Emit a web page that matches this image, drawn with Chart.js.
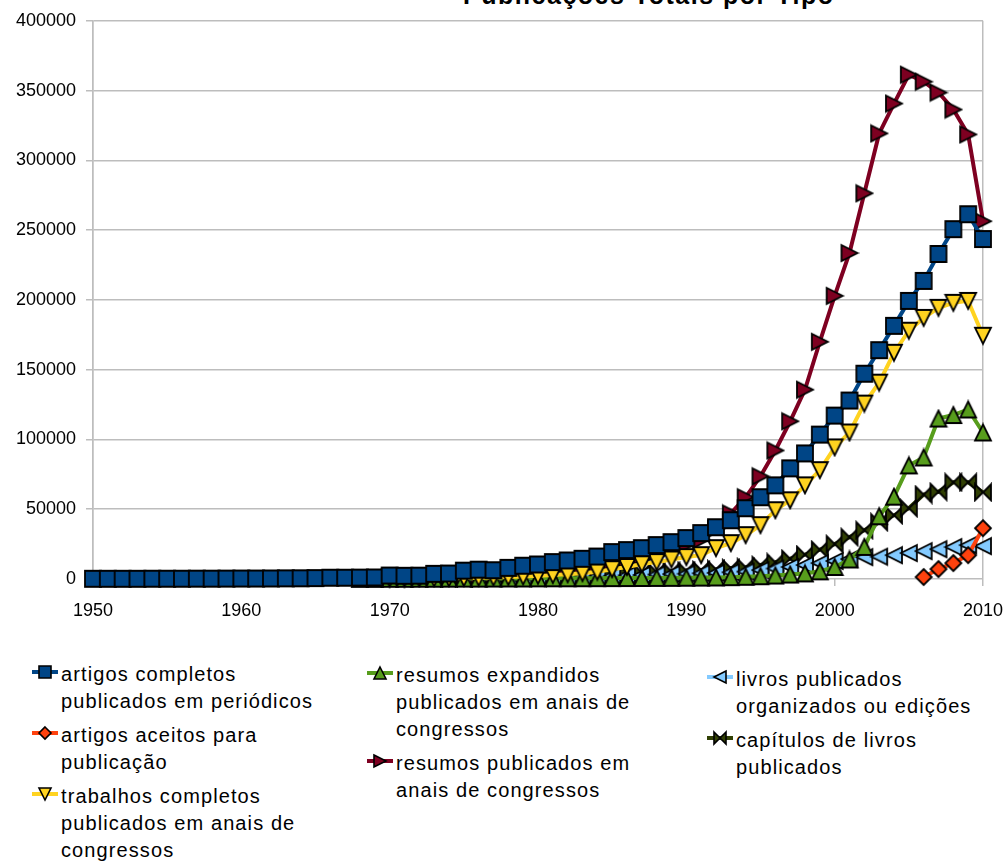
<!DOCTYPE html>
<html>
<head>
<meta charset="utf-8">
<title>Publicações Totais por Tipo</title>
<script src="https://cdn.jsdelivr.net/npm/chart.js@4.4.1/dist/chart.umd.min.js"></script>
<style>
  body { margin: 0; width: 1006px; height: 864px; overflow: hidden; background: #fff; position: relative;
         font-family: "Liberation Sans", Arial, sans-serif; color: #000; }
  #title { position: absolute; left: 463px; top: -20px; font-size: 25px; font-weight: bold; line-height: 30px;
           letter-spacing: 1.5px; white-space: nowrap; }
  #wrap { position: absolute; left: 0; top: 0; width: 1006px; height: 626px; }
  .col { position: absolute; }
  .item { position: relative; font-size: 20px; line-height: 27px; letter-spacing: 1.1px; margin-bottom: 7px; white-space: nowrap; }
  .item canvas { position: absolute; left: -30px; top: 3px; }
</style>
</head>
<body>
<div id="title">Publicações Totais por Tipo</div>
<div id="wrap"><canvas id="chart"></canvas></div>
<div id="legend"></div>

<script>
// --- dados ---
const years = [1950, 1951, 1952, 1953, 1954, 1955, 1956, 1957, 1958, 1959,
               1960, 1961, 1962, 1963, 1964, 1965, 1966, 1967, 1968, 1969,
               1970, 1971, 1972, 1973, 1974, 1975, 1976, 1977, 1978, 1979,
               1980, 1981, 1982, 1983, 1984, 1985, 1986, 1987, 1988, 1989,
               1990, 1991, 1992, 1993, 1994, 1995, 1996, 1997, 1998, 1999,
               2000, 2001, 2002, 2003, 2004, 2005, 2006, 2007, 2008, 2009, 2010];

const artigosCompletos = [150, 150, 160, 170, 180, 200, 220, 240, 260, 290,
                          320, 350, 400, 450, 520, 650, 900, 900, 1000, 1100,
                          2500, 2300, 2400, 3700, 3900, 6000, 6700, 6300, 8000, 9500,
                          10400, 12100, 13300, 14500, 16100, 19300, 20700, 22100, 24300, 26400,
                          29300, 32900, 37100, 42100, 50700, 58600, 67100, 79300, 90000, 103500,
                          117100, 127900, 147100, 164000, 181400, 199300, 213600, 232900, 250700, 261400, 243600];

const artigosAceitos = [null, null, null, null, null, null, null, null, null, null,
                        null, null, null, null, null, null, null, null, null, null,
                        null, null, null, null, null, null, null, null, null, null,
                        null, null, null, null, null, null, null, null, null, null,
                        null, null, null, null, null, null, null, null, null, null,
                        null, null, null, null, null, null, 1400, 7100, 11400, 17100, 36400];

const trabalhosCompletos = [null, null, null, null, null, null, null, null, null, null,
                            null, null, null, null, null, null, null, null, null, null,
                            300, 350, 400, 500, 600, 700, 900, 1100, 1400, 1800,
                            2300, 2800, 3400, 4200, 5200, 7000, 8600, 10700, 12100, 14000,
                            15700, 17100, 22100, 25700, 31400, 38600, 49300, 56400, 67100, 78000,
                            94300, 105000, 125700, 140700, 162100, 177900, 187100, 194300, 197900, 199300, 174300];

const resumosExpandidos = [null, null, null, null, null, null, null, null, null, null,
                           null, null, null, null, null, null, null, null, 100, 100,
                           150, 150, 200, 200, 250, 300, 300, 350, 400, 400,
                           450, 500, 500, 550, 600, 650, 700, 750, 800, 850,
                           900, 1000, 1100, 1300, 1600, 2000, 2500, 3200, 4000, 5500,
                           8600, 14000, 23000, 45000, 59000, 81400, 87100, 115000, 117500, 121500, 105000];

const resumosPublicados = [null, null, null, null, null, null, null, null, null, null,
                           null, null, null, null, null, null, null, null, null, null,
                           800, 900, 1000, 1300, 1600, 2000, 2500, 3000, 3800, 4600,
                           5500, 6500, 7500, 8800, 10500, 12500, 14500, 16500, 19000, 22000,
                           24500, 28000, 36000, 47000, 58600, 73600, 92100, 113000, 135700, 170000,
                           202900, 233600, 276400, 319300, 340700, 361400, 356400, 348600, 336400, 318600, 256400];

const livros = [null, null, null, null, null, null, null, null, null, null,
                null, null, null, null, null, null, null, null, null, null,
                null, null, null, null, null, 400, 500, 600, 700, 800,
                1000, 1200, 1400, 1700, 2000, 2300, 2600, 2900, 3200, 3500,
                3800, 4100, 4400, 4800, 5300, 6400, 7500, 8600, 10000, 11400,
                12900, 14300, 15700, 16000, 17100, 18600, 20000, 21400, 22900, 24300, 23600];

const capitulos = [null, null, null, null, null, null, null, null, null, null,
                   null, null, null, null, null, null, null, null, null, null,
                   500, 600, 700, 800, 900, 1000, 1200, 1400, 1600, 1800,
                   2000, 2300, 2600, 3000, 3400, 3800, 4200, 4600, 5000, 5500,
                   6000, 6500, 7000, 7800, 8500, 10000, 12000, 14500, 17500, 21000,
                   25000, 30000, 35000, 40700, 45700, 50700, 60500, 62500, 69300, 69300, 62100];

const legendLines = [
    ['artigos completos', 'publicados em periódicos'],
    ['artigos aceitos para', 'publicação'],
    ['trabalhos completos', 'publicados em anais de', 'congressos'],
    ['resumos expandidos', 'publicados em anais de', 'congressos'],
    ['resumos publicados em', 'anais de congressos'],
    ['livros publicados', 'organizados ou edições'],
    ['capítulos de livros', 'publicados']
];

const xTicks = [1950, 1960, 1970, 1980, 1990, 2000, 2010];
const yTicks = [0, 50000, 100000, 150000, 200000, 250000, 300000, 350000, 400000];

// --- estilos ---
const seriesValues = [artigosCompletos, artigosAceitos, trabalhosCompletos, resumosExpandidos,
                      resumosPublicados, livros, capitulos];
const colors = ['#004586', '#ff420e', '#ffd320', '#579d1c', '#7e0021', '#83caff', '#314004'];
const shapes = ['square', 'diamond', 'down', 'up', 'right', 'left', 'bowtie'];

// desenha o símbolo (estilo LibreOffice: forma inscrita num quadrado centrado no ponto)
function shapePath(ctx, shape, h) {
    ctx.beginPath();
    if (shape === 'square') {
        ctx.rect(-h, -h, 2 * h, 2 * h);
    } else if (shape === 'diamond') {
        ctx.moveTo(0, -h); ctx.lineTo(h, 0); ctx.lineTo(0, h); ctx.lineTo(-h, 0); ctx.closePath();
    } else if (shape === 'up') {
        ctx.moveTo(0, -h); ctx.lineTo(h, h); ctx.lineTo(-h, h); ctx.closePath();
    } else if (shape === 'down') {
        ctx.moveTo(-h, -h); ctx.lineTo(h, -h); ctx.lineTo(0, h); ctx.closePath();
    } else if (shape === 'right') {
        ctx.moveTo(-h, -h); ctx.lineTo(h, 0); ctx.lineTo(-h, h); ctx.closePath();
    } else if (shape === 'left') {
        ctx.moveTo(h, -h); ctx.lineTo(-h, 0); ctx.lineTo(h, h); ctx.closePath();
    } else if (shape === 'bowtie') {
        ctx.moveTo(-h, -h); ctx.lineTo(0, 0); ctx.lineTo(-h, h); ctx.closePath();
        ctx.moveTo(h, -h); ctx.lineTo(0, 0); ctx.lineTo(h, h); ctx.closePath();
    }
}

function makeMarker(shape, fill, size) {
    const c = document.createElement('canvas');
    c.width = size + 4;
    c.height = size + 4;
    const ctx = c.getContext('2d');
    ctx.translate(c.width / 2, c.height / 2);
    shapePath(ctx, shape, size / 2);
    ctx.fillStyle = fill;
    ctx.fill();
    ctx.lineWidth = 1.8;
    ctx.lineJoin = 'miter';
    ctx.strokeStyle = '#000';
    ctx.stroke();
    return c;
}

function makeLegendMarker(shape, fill) {
    const c = document.createElement('canvas');
    c.width = 28;
    c.height = 16;
    const ctx = c.getContext('2d');
    ctx.fillStyle = fill;
    ctx.fillRect(1, 6, 26, 4);
    ctx.translate(14, 8);
    shapePath(ctx, shape, 6);
    ctx.fill();
    ctx.lineWidth = 1.6;
    ctx.strokeStyle = '#000';
    ctx.stroke();
    return c;
}

// --- datasets ---
const datasets = seriesValues.map((vals, i) => ({
    label: legendLines[i].join(' '),
    data: years.map((yr, k) => ({ x: yr, y: vals[k] })),
    borderColor: colors[i],
    backgroundColor: colors[i],
    borderWidth: 4,
    pointStyle: makeMarker(shapes[i], colors[i], 16),
    pointRadius: 8,
    pointHoverRadius: 8,
    tension: 0,
    spanGaps: false,
    clip: false
}));

const gridGray = '#bdbdbd';

new Chart(document.getElementById('chart'), {
    type: 'line',
    data: { datasets: datasets },
    options: {
        responsive: true,
        maintainAspectRatio: false,
        animation: false,
        layout: { padding: { top: 19, right: 23, left: 0, bottom: 0 } },
        plugins: {
            legend: { display: false },
            title: { display: false },
            tooltip: { enabled: false }
        },
        scales: {
            x: {
                type: 'linear',
                min: xTicks[0],
                max: xTicks[xTicks.length - 1],
                afterBuildTicks: (scale) => { scale.ticks = xTicks.map(v => ({ value: v })); },
                afterFit: (scale) => {
                    scale.height = 47;
                    scale.paddingLeft = 0;
                    scale.paddingRight = 0;
                },
                grid: {
                    color: (c) => (c.tick && (c.tick.value === xTicks[0] || c.tick.value === xTicks[xTicks.length - 1])) ? gridGray : 'rgba(0,0,0,0)',
                    tickColor: gridGray,
                    lineWidth: 1.5,
                    tickLength: 7
                },
                border: { display: false },
                ticks: {
                    color: '#000',
                    padding: 14,
                    maxRotation: 0,
                    font: { family: '"Liberation Sans", Arial, sans-serif', size: 18 },
                    callback: (v) => String(v)
                }
            },
            y: {
                min: yTicks[0],
                max: yTicks[yTicks.length - 1],
                afterBuildTicks: (scale) => { scale.ticks = yTicks.map(v => ({ value: v })); },
                afterFit: (scale) => { scale.width = 93; },
                grid: {
                    color: gridGray,
                    tickColor: gridGray,
                    lineWidth: 1.5,
                    tickLength: 7
                },
                border: { display: true, color: gridGray, width: 1.5 },
                ticks: {
                    color: '#000',
                    padding: 10,
                    font: { family: '"Liberation Sans", Arial, sans-serif', size: 18 },
                    callback: (v) => String(v)
                }
            }
        }
    }
});

// --- legenda HTML em 3 colunas ---
const legendCols = [
    { left: 61, top: 661, items: [0, 1, 2] },
    { left: 396, top: 662, items: [3, 4] },
    { left: 736, top: 666, items: [5, 6] }
];
const legendEl = document.getElementById('legend');
legendCols.forEach(col => {
    const colEl = document.createElement('div');
    colEl.className = 'col';
    colEl.style.left = col.left + 'px';
    colEl.style.top = col.top + 'px';
    col.items.forEach(i => {
        const item = document.createElement('div');
        item.className = 'item';
        item.appendChild(makeLegendMarker(shapes[i], colors[i]));
        legendLines[i].forEach((line, k) => {
            if (k > 0) item.appendChild(document.createElement('br'));
            item.appendChild(document.createTextNode(line));
        });
        colEl.appendChild(item);
    });
    legendEl.appendChild(colEl);
});
</script>
</body>
</html>
